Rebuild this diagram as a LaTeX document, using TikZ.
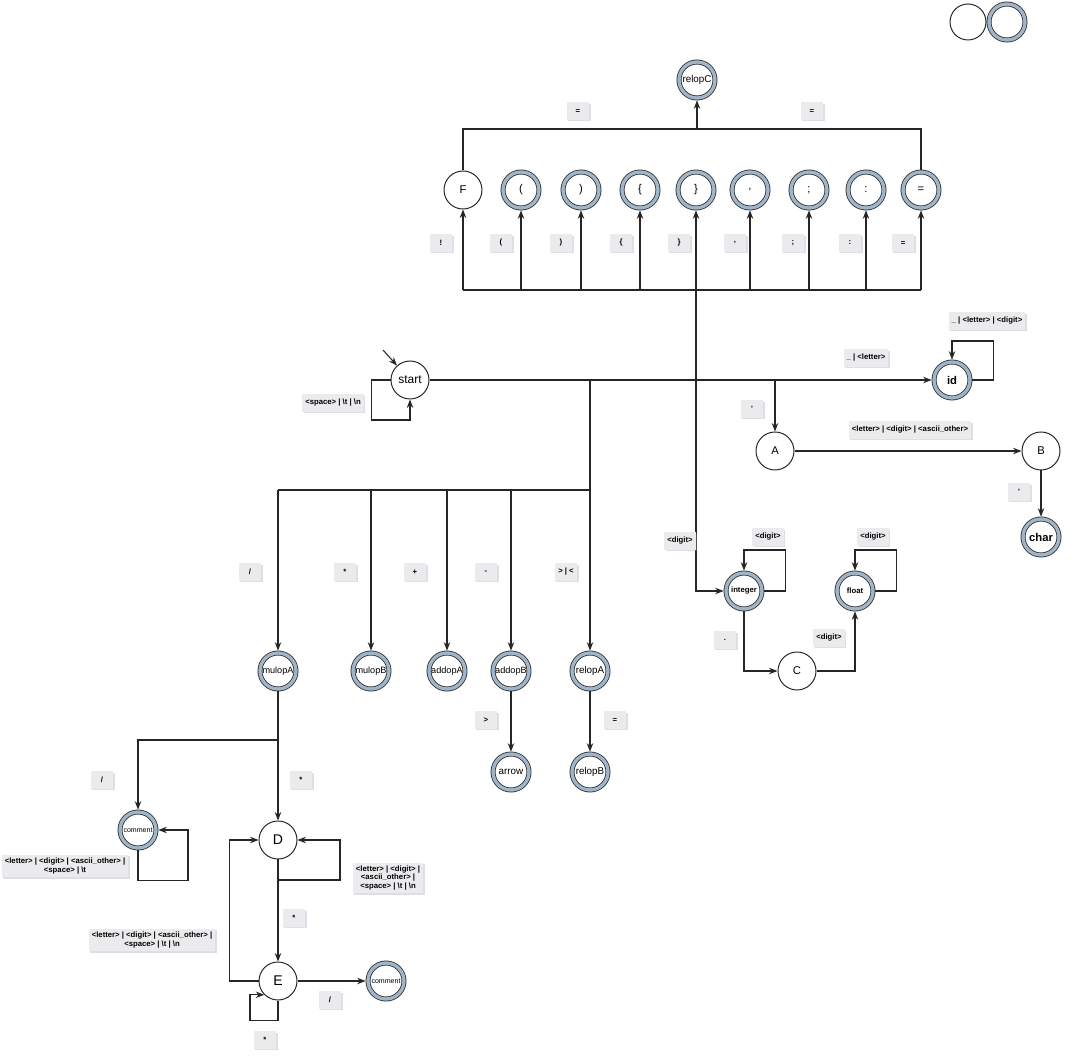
\documentclass[tikz,border=0pt]{standalone}
\usepackage{fontspec}
\setmainfont{Liberation Sans}
\usetikzlibrary{arrows.meta,shadows,positioning}
\definecolor{ringblue}{HTML}{9FB5CA}
\definecolor{lblfill}{HTML}{EBEBEE}
\definecolor{linegray}{HTML}{262626}

\tikzset{
  state/.style={circle,draw=linegray,fill=white,line width=0.7pt,minimum size=0.95cm,inner sep=0pt,font=\fontsize{8}{9}\selectfont},
  accept/.style={circle,draw=linegray,double=ringblue,double distance=2.4pt,line width=0.55pt,fill=white,minimum size=0.9cm,inner sep=0pt,outer sep=1.7pt,font=\fontsize{7}{8}\selectfont},
  lbl/.style={fill=lblfill,inner sep=2.2pt,minimum width=16pt,minimum height=12.5pt,font=\bfseries\fontsize{5.5}{6.2}\selectfont,align=center,drop shadow={shadow xshift=1pt,shadow yshift=-1pt,opacity=0.35,fill=ringblue!70!gray}},
  edge/.style={draw=linegray,line width=0.75pt,-{Stealth[length=6pt,width=4.6pt]}},
  wire/.style={draw=linegray,line width=0.75pt},
}

\begin{document}
\begin{tikzpicture}[x=0.025cm,y=-0.025cm]
\useasboundingbox (0,0) rectangle (1073,1062);

% legend circles
\node[state,minimum size=0.9cm] (legS) at (968,22) {};
\node[accept] (legA) at (1007,22) {};

% delimiters
\node[accept] (relopC) at (697,80) {relopC};
\node[state] (F) at (463,190) {F};
\node[accept,font=\fontsize{8}{9}\selectfont] (lpar) at (521,190) {(};
\node[accept,font=\fontsize{8}{9}\selectfont] (rpar) at (581,190) {)};
\node[accept,font=\fontsize{8}{9}\selectfont] (lbrace) at (640,190) {\{};
\node[accept,font=\fontsize{8}{9}\selectfont] (rbrace) at (696,190) {\}};
\node[accept,font=\fontsize{8}{9}\selectfont] (comma) at (750,190) {,};
\node[accept,font=\fontsize{8}{9}\selectfont] (semi) at (809,190) {;};
\node[accept,font=\fontsize{8}{9}\selectfont] (colon) at (866,190) {:};
\node[accept,font=\fontsize{8}{9}\selectfont] (assign) at (921,190) {=};
\coordinate (top) at (697,129);
\coordinate (bus) at (696,290);

\draw[wire] (F) |- (top) -| (assign);
\draw[edge] (top) -- (relopC);
\draw[wire] (F |- bus) -- (assign |- bus);
\foreach \n in {F,lpar,rpar,lbrace,rbrace,comma,semi,colon,assign}
  \draw[edge] (\n |- bus) -- (\n);

\node[lbl] (lEqA) at (578,111) {=};
\node[lbl] (lEqB) at (812,111) {=};
\node[lbl] (lNot) at (441,243) {!};
\node[lbl] (lLpar) at (501,243) {(};
\node[lbl] (lRpar) at (561,243) {)};
\node[lbl] (lLbrace) at (621,243) {\{};
\node[lbl] (lRbrace) at (679,243) {\}};
\node[lbl] (lComma) at (735,243) {,};
\node[lbl] (lSemi) at (793,243) {;};
\node[lbl] (lColon) at (850,243) {:};
\node[lbl] (lAssign) at (903,243) {=};

% start, id, char
\node[state,font=\fontsize{8.5}{9}\selectfont] (start) at (410,380) {start};
\coordinate (init) at (383,350);
\draw[edge] (init) -- (start);
\draw[edge] (start.west) -- ++(-19,0) -- ++(0,40) -| (start.south);
\node[lbl] (lWs) at (333,403) {<space> | \textbackslash t | \textbackslash n};

\node[accept,font=\bfseries\fontsize{8}{9}\selectfont] (id) at (952,380) {id};
\draw[edge] (start) -- (id);
\draw[edge] (id.east) -- ++(21,0) -- ++(0,-39) -| (id.north);
\node[lbl] (lId) at (866,358) {\_ | <letter>};
\node[lbl] (lIdLoop) at (987,321) {\_ | <letter> | <digit>};

\node[state] (A) at (775,451) {A};
\node[state] (B) at (1041,451) {B};
\node[accept,font=\bfseries\fontsize{8}{9}\selectfont] (char) at (1041,537) {char};
\draw[edge] (start -| A) -- (A);
\draw[edge] (A) -- (B);
\draw[edge] (B) -- (char);
\node[lbl] (lQuoteA) at (752,409) {\textquotesingle};
\node[lbl] (lAB) at (910,430) {<letter> | <digit> | <ascii\_other>};
\node[lbl] (lQuoteB) at (1019,492) {\textquotesingle};

% numbers
\node[accept,font=\bfseries\fontsize{5.5}{6}\selectfont] (integer) at (744,591) {integer};
\node[accept,font=\bfseries\fontsize{5.5}{6}\selectfont] (float) at (855,591) {float};
\node[state] (C) at (797,671) {C};
\draw[edge] (bus) |- (integer);
\draw[edge] (integer.east) -- ++(21,0) -- ++(0,-41) -| (integer.north);
\draw[edge] (float.east) -- ++(21,0) -- ++(0,-41) -| (float.north);
\draw[edge] (integer) |- (C);
\draw[edge] (C) -| (float);
\node[lbl] (lDigit) at (680,541) {<digit>};
\node[lbl] (lIntLoop) at (768,537) {<digit>};
\node[lbl] (lFloatLoop) at (873,537) {<digit>};
\node[lbl] (lDot) at (725,640) {.};
\node[lbl] (lCF) at (829,638) {<digit>};

% operators
\node[accept,font=\fontsize{6.5}{7}\selectfont] (mulopA) at (278,671) {mulopA};
\node[accept,font=\fontsize{6.5}{7}\selectfont] (mulopB) at (371,671) {mulopB};
\node[accept,font=\fontsize{6.5}{7}\selectfont] (addopA) at (447,671) {addopA};
\node[accept,font=\fontsize{6.5}{7}\selectfont] (addopB) at (511,671) {addopB};
\node[accept] (relopA) at (590,671) {relopA};
\node[accept] (arrow) at (511,772) {arrow};
\node[accept] (relopB) at (590,772) {relopB};
\coordinate (split) at (590,490);
\draw[wire] (start -| split) -- (split) -- (split -| mulopA);
\foreach \n in {mulopA,mulopB,addopA,addopB,relopA}
  \draw[edge] (split -| \n) -- (\n);
\draw[edge] (addopB) -- (arrow);
\draw[edge] (relopA) -- (relopB);
\node[lbl] (lDiv) at (250,572) {/};
\node[lbl] (lMul) at (345,572) {*};
\node[lbl] (lAdd) at (415,572) {+};
\node[lbl] (lSub) at (486,572) {-};
\node[lbl] (lRel) at (566,572) {> | <};
\node[lbl] (lArrow) at (486,720) {>};
\node[lbl] (lRelB) at (615,720) {=};

% comments
\node[accept,font=\fontsize{5}{6}\selectfont] (comA) at (138,830) {comment};
\node[state,font=\fontsize{10}{11}\selectfont] (D) at (278,840) {D};
\node[state,font=\fontsize{10}{11}\selectfont] (E) at (278,981) {E};
\node[accept,font=\fontsize{5}{6}\selectfont] (comB) at (386,981) {comment};
\coordinate (jC) at (278,740);
\coordinate (jD) at (278,880);
\draw[edge] (jC) -| (comA);
\draw[edge] (mulopA) -- (D);
\draw[edge] (comA.south) -- ++(0,30) -- ++(50,0) |- (comA.east);
\draw[edge] (D) -- (E);
\draw[edge] (jD) -- ++(62,0) |- (D.east);
\draw[edge] (E.west) -- ++(-29,0) |- (D.west);
\draw[edge] (E.south) -- ++(0,20) -- ++(-28,0) |- (E.225);
\draw[edge] (E) -- (comB);
\node[lbl] (lComA) at (102,780) {/};
\node[lbl] (lComD) at (301,780) {*};
\node[lbl] (lComLoop) at (65,866) {<letter> | <digit> | <ascii\_other> |\\<space> | \textbackslash t};
\node[lbl] (lDLoop) at (388,878) {<letter> | <digit> |\\<ascii\_other> |\\<space> | \textbackslash t | \textbackslash n};
\node[lbl] (lDE) at (294,918) {*};
\node[lbl] (lED) at (152,940) {<letter> | <digit> | <ascii\_other> |\\<space> | \textbackslash t | \textbackslash n};
\node[lbl] (lEnd) at (330,1000) {/};
\node[lbl] (lELoop) at (265,1040) {*};
\end{tikzpicture}
\end{document}
